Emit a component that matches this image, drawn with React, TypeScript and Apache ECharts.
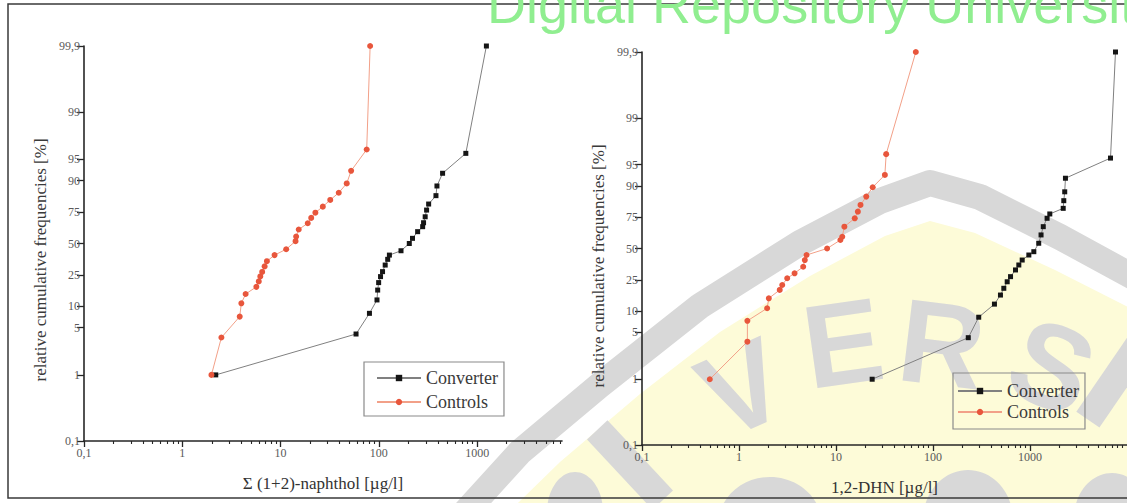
import React, { useEffect, useRef } from 'react';
import * as echarts from 'echarts';

// ---- tick definitions ----
const yTickPercents = [0.1, 1, 5, 10, 25, 50, 75, 90, 95, 99, 99.9];
const yTickLabels = ['0,1', '1', '5', '10', '25', '50', '75', '90', '95', '99', '99,9'];
const xTickValues = [0.1, 1, 10, 100, 1000];
const xTickLabels = ['0,1', '1', '10', '100', '1000'];
const seriesNames = ['Converter', 'Controls'];

// ---- Σ(1+2)-naphthol panel ----
const naphConverterX = [2.19, 58.6, 80.2, 95.7, 97.3, 99.5, 104, 109, 116, 123, 128, 168, 204, 220, 248, 279, 285, 296, 306, 321, 381, 390, 445, 767, 1242];
const naphConverterP = [1.0, 4.05, 8.0, 12.2, 16.4, 20.3, 23.9, 27.2, 32, 36.5, 40, 43.7, 50, 54.5, 60.2, 64.3, 67.4, 71.8, 76.3, 79.9, 84.2, 88.2, 92.1, 95.9, 99.9];
const naphControlsX = [1.98, 2.5, 3.84, 3.99, 4.41, 5.67, 6.0, 6.22, 6.5, 6.88, 7.26, 8.69, 11.4, 14.2, 14.4, 15.3, 18.9, 20.5, 22.6, 26.9, 32, 39.1, 47.1, 52.2, 75.2, 81.5];
const naphControlsP = [1.0, 3.6, 7.2, 11, 14.6, 18, 21, 24, 27, 31, 35, 40, 45, 52, 56, 62, 67, 71, 74.6, 78.4, 82.1, 85.5, 89.1, 92.7, 96.4, 99.9];

// ---- 1,2-DHN panel ----
const dhnConverterX = [23.6, 231, 296, 430, 496, 537, 582, 630, 709, 767, 831, 973, 1095, 1230, 1300, 1370, 1500, 1600, 2200, 2230, 2280, 2320, 6760, 7610];
const dhnConverterP = [1.0, 4.17, 8.2, 12.4, 16.3, 19.8, 23.7, 27.1, 32, 35.9, 40, 44.3, 47.2, 54.6, 61.7, 68.3, 74.3, 77.1, 80.4, 84.3, 88, 92.2, 96, 99.9];
const dhnControlsX = [0.5, 1.22, 1.22, 1.95, 2.03, 2.63, 2.79, 3.14, 3.74, 4.59, 4.77, 4.97, 8.1, 11.1, 11.6, 12.2, 15.6, 16.8, 17.9, 20.5, 23.9, 31.9, 32.9, 66.5];
const dhnControlsP = [1.0, 3.64, 7.3, 10.9, 14.8, 18.9, 21.7, 26, 29.5, 34.5, 40, 44.3, 50, 57.4, 60.2, 68.3, 74.3, 78.5, 82.2, 86.1, 89.6, 93, 96.5, 99.9];

const logit = (p: number) => Math.log(p / (100 - p));
const yTickVals = yTickPercents.map(logit);
const Y_MIN = logit(0.1);
const Y_MAX = logit(99.9);
const minorVals: number[] = [];
[0.1, 1, 10, 100, 1000].forEach((d) => {
  for (let k = 2; k <= 9; k++) minorVals.push(+(d * k).toPrecision(6));
});

const serif = 'Liberation Serif';
const AX = '#262626';

const toData = (xs: number[], ps: number[]) => xs.map((x, i) => [x, logit(ps[i])]);

const yLabelFmt = (v: number) => {
  let best = 0;
  for (let i = 0; i < yTickVals.length; i++) {
    if (Math.abs(yTickVals[i] - v) < Math.abs(yTickVals[best] - v)) best = i;
  }
  return yTickLabels[best];
};
const xLabelFmt = (v: number) => {
  let best = 0;
  for (let i = 0; i < xTickValues.length; i++) {
    if (Math.abs(Math.log10(xTickValues[i]) - Math.log10(v)) < Math.abs(Math.log10(xTickValues[best]) - Math.log10(v))) best = i;
  }
  return xTickLabels[best];
};

const makeY = (gridIndex: number) => ({
  type: 'value',
  gridIndex,
  min: Y_MIN,
  max: Y_MAX,
  axisLine: { show: true, lineStyle: { color: AX, width: 1.6 } },
  axisTick: { show: true, customValues: yTickVals, length: 7, lineStyle: { color: AX, width: 1.3 } },
  axisLabel: { customValues: yTickVals, formatter: yLabelFmt, color: '#5a5a5a', fontFamily: serif, fontSize: 12, margin: 4 },
  splitLine: { show: false },
});

const makeXMain = (gridIndex: number, max: number, name: string) => ({
  type: 'log',
  logBase: 10,
  gridIndex,
  position: 'bottom',
  min: 0.1,
  max,
  axisLine: { show: true, onZero: false, lineStyle: { color: AX, width: 1.6 } },
  axisTick: { show: true, customValues: xTickValues, length: 6, lineStyle: { color: AX, width: 1.3 } },
  axisLabel: { customValues: xTickValues, formatter: xLabelFmt, color: '#5a5a5a', fontFamily: serif, fontSize: 12, margin: 6 },
  splitLine: { show: false },
  name,
  nameLocation: 'middle',
  nameGap: 34,
  nameTextStyle: { fontFamily: serif, fontSize: 17, color: '#333' },
});

const makeXMinor = (gridIndex: number, max: number) => ({
  type: 'log',
  logBase: 10,
  gridIndex,
  position: 'bottom',
  min: 0.1,
  max,
  axisLine: { show: false, onZero: false },
  axisTick: { show: true, customValues: minorVals, length: 3, lineStyle: { color: AX, width: 1.1 } },
  axisLabel: { show: false },
  splitLine: { show: false },
});

const converterStyle = {
  type: 'line',
  name: seriesNames[0],
  symbol: 'rect',
  symbolSize: 5,
  itemStyle: { color: '#151515' },
  lineStyle: { color: '#808080', width: 1 },
};
const controlsStyle = {
  type: 'line',
  name: seriesNames[1],
  symbol: 'circle',
  symbolSize: 6,
  itemStyle: { color: '#e8563c' },
  lineStyle: { color: '#f2a088', width: 1 },
};

const legendBase = {
  orient: 'vertical',
  data: seriesNames,
  borderColor: '#8a8a8a',
  borderWidth: 1.2,
  itemWidth: 44,
  itemHeight: 8,
  textStyle: { fontFamily: serif, fontSize: 18, color: '#3a3a3a' },
};

const GREY = '#d8d8d8';

const letters = [
  { t: 'V', x: 742, y: 388, r: 0.42 },
  { t: 'E', x: 843, y: 343, r: 0.14 },
  { t: 'R', x: 942, y: 344, r: -0.12 },
  { t: 'S', x: 1052, y: 366, r: -0.38 },
];

const watermark = [
  {
    type: 'polygon',
    z: -10,
    silent: true,
    shape: {
      points: [[480, 540], [560, 462], [640, 394], [720, 332], [810, 276], [885, 236], [930, 221], [975, 233], [1055, 270], [1150, 318], [1150, 540]],
    },
    style: { fill: '#fdfbd8' },
  },
  {
    type: 'polyline',
    z: -9,
    silent: true,
    shape: {
      points: [[440, 540], [520, 452], [600, 385], [700, 306], [800, 243], [880, 201], [930, 183], [980, 197], [1060, 237], [1150, 286]],
    },
    style: { stroke: GREY, lineWidth: 26, fill: 'none', lineJoin: 'round' },
  },
  ...letters.map((l) => ({
    type: 'text',
    z: -8,
    silent: true,
    x: l.x,
    y: l.y,
    rotation: l.r,
    style: { text: l.t, fill: GREY, font: 'bold 118px "Liberation Sans"', align: 'center', verticalAlign: 'middle' },
  })),
  ...[
    { x: 630, y: 465, r: 0.75 },
    { x: 1115, y: 380, r: -0.6 },
  ].map((b) => ({
    type: 'rect',
    z: -8,
    silent: true,
    x: b.x,
    y: b.y,
    rotation: b.r,
    shape: { x: -14, y: -48, width: 28, height: 96 },
    style: { fill: GREY },
  })),
  ...[
    { cx: 770, cy: 525, rx: 52, ry: 48 },
    { cx: 968, cy: 520, rx: 45, ry: 50 },
    { cx: 1112, cy: 518, rx: 38, ry: 45 },
    { cx: 575, cy: 512, rx: 28, ry: 40 },
  ].map((e) => ({
    type: 'ellipse',
    z: -8,
    silent: true,
    shape: e,
    style: { fill: GREY },
  })),
];

export default function App() {
  const ref = useRef<HTMLDivElement>(null);
  useEffect(() => {
    if (!ref.current) return;
    const chart = echarts.init(ref.current, null, { renderer: 'svg' });
    chart.setOption({
      animation: false,
      backgroundColor: '#ffffff',
      textStyle: { fontFamily: serif },
      grid: [
        { left: 84, top: 46, width: 478, height: 395, outerBoundsMode: 'none' },
        { left: 642, top: 52, width: 485, height: 393, outerBoundsMode: 'none' },
      ],
      xAxis: [
        makeXMain(0, 7300, 'Σ (1+2)-naphthol [µg/l]'),
        makeXMinor(0, 7300),
        makeXMain(1, 10000, '1,2-DHN [µg/l]'),
        makeXMinor(1, 10000),
      ],
      yAxis: [makeY(0), makeY(1)],
      legend: [
        { ...legendBase, left: 364, top: 362, padding: [7, 6, 5, 12], itemGap: 6 },
        { ...legendBase, left: 953, top: 373, padding: [9, 6, 8, 4], itemGap: 3 },
      ],
      graphic: [
        ...watermark,
        {
          type: 'rect',
          z: 50,
          silent: true,
          shape: { x: 8, y: 4, width: 1130, height: 494 },
          style: { fill: 'none', stroke: '#3a3a3a', lineWidth: 1.5 },
        },
        {
          type: 'text',
          z: 40,
          silent: true,
          x: 40,
          y: 260,
          rotation: Math.PI / 2,
          style: { text: 'relative cumulative frequencies [%]', font: '17px "Liberation Serif"', fill: '#3a3a3a', align: 'center', verticalAlign: 'middle' },
        },
        {
          type: 'text',
          z: 40,
          silent: true,
          x: 598,
          y: 266,
          rotation: Math.PI / 2,
          style: { text: 'relative cumulative frequencies [%]', font: '17px "Liberation Serif"', fill: '#3a3a3a', align: 'center', verticalAlign: 'middle' },
        },
        {
          type: 'text',
          z: 60,
          silent: true,
          x: 487,
          y: 4,
          style: { text: 'Digital Repository Universit', font: '54px "Liberation Sans"', fill: '#90ee90', align: 'left', verticalAlign: 'middle' },
        },
      ],
      series: [
        { ...converterStyle, xAxisIndex: 0, yAxisIndex: 0, data: toData(naphConverterX, naphConverterP) },
        { ...controlsStyle, xAxisIndex: 0, yAxisIndex: 0, data: toData(naphControlsX, naphControlsP) },
        { ...converterStyle, xAxisIndex: 2, yAxisIndex: 1, data: toData(dhnConverterX, dhnConverterP) },
        { ...controlsStyle, xAxisIndex: 2, yAxisIndex: 1, data: toData(dhnControlsX, dhnControlsP) },
      ],
    });
    return () => chart.dispose();
  }, []);
  return <div ref={ref} style={{ position: 'fixed', left: 0, top: 0, width: 1127, height: 503 }} />;
}
